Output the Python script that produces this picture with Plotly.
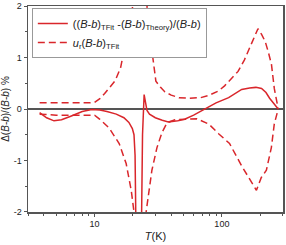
import plotly.graph_objects as go

RED = "#d9262b"

# Solid curve: relative deviation of TFit from theory (%)
T_dev = [3.7, 4.2, 4.8, 5.5, 6.5, 8, 9.5, 10, 11, 12.5, 14.8, 17, 18.6, 19.8, 20.4, 20.8, 21.0, 21.3, 22.0,
         23.0, 23.3, 23.8, 24.5, 25.0, 25.8, 27, 30, 34, 38, 45, 51, 60, 73, 90, 113, 130, 143, 165, 185,
         205, 222, 237, 258, 277]
dev = [-0.07, -0.17, -0.23, -0.21, -0.14, -0.05, -0.01, -0.01, -0.02, -0.05, -0.1, -0.17, -0.26, -0.38, -0.5,
       -0.9, -1.6, -3.0, -10.0,
       -10.0, -2.5, -0.5, 0.28, 0.12, -0.03, -0.1, -0.17, -0.22, -0.25, -0.23, -0.2, -0.12, 0.0, 0.12, 0.22,
       0.32, 0.38, 0.41, 0.42, 0.4, 0.32, 0.21, 0.1, 0.0]

# Dashed curves: relative uncertainty u_r (%) upper and lower
T_up = [3.7, 5, 7, 9, 10, 11, 12, 13.2, 14.5, 16, 17, 18.6, 19.8, 20.5, 21.5,
        24.5, 25.8, 27, 28.5, 30.3, 33, 35.7, 40, 46, 55, 68, 80, 94, 105, 113, 134, 150, 170, 192, 205,
        219, 232, 245, 258, 268, 277]
u_up = [0.12, 0.12, 0.11, 0.12, 0.13, 0.2, 0.3, 0.42, 0.55, 0.8, 1.12, 1.5, 1.94, 2.5, 5.0,
        5.0, 2.0, 1.5, 1.0, 0.54, 0.42, 0.33, 0.27, 0.22, 0.21, 0.22, 0.27, 0.35, 0.45, 0.54, 0.73, 0.95,
        1.25, 1.56, 1.45, 1.31, 1.1, 0.87, 0.4, 0.2, 0.0]

T_lo = [3.7, 5, 7, 9, 10, 11, 13.0, 15.6, 17.7, 19.4, 20.4, 21.5,
        24.0, 25.4, 28.2, 30.9, 33.8, 37, 42.7, 63.4, 78.7, 94.2, 114.8, 142.6, 186.8, 204, 223.6, 244.6,
        258, 277]
u_lo = [-0.1, -0.12, -0.12, -0.11, -0.12, -0.2, -0.37, -0.67, -1.06, -1.58, -2.0, -5.0,
        -5.0, -2.0, -1.19, -0.75, -0.46, -0.27, -0.21, -0.19, -0.29, -0.48, -0.67, -1.1, -1.58, -1.33,
        -1.19, -0.75, -0.29, 0.0]

y_ticks = [-2, -1, 0, 1, 2]
x_ticks = [10, 100]

FONT = "Arial, 'Liberation Sans', sans-serif"
DASH = "7px,4px"

fig = go.Figure()
fig.add_trace(go.Scatter(
    x=T_dev, y=dev, mode="lines", line=dict(color=RED, width=1.5),
    name="((<i>B</i>-<i>b</i>)<sub>TFit</sub> -(<i>B</i>-<i>b</i>)<sub>Theory</sub>)/(<i>B</i>-<i>b</i>)"))
fig.add_trace(go.Scatter(
    x=T_up, y=u_up, mode="lines", line=dict(color=RED, width=1.5, dash=DASH),
    name="<i>u</i><sub>r</sub>(<i>B</i>-<i>b</i>)<sub>TFit</sub>"))
fig.add_trace(go.Scatter(
    x=T_lo, y=u_lo, mode="lines", line=dict(color=RED, width=1.5, dash=DASH),
    showlegend=False))

axis_common = dict(
    showline=True, linecolor="#555", linewidth=1.5, mirror=True,
    ticks="outside", ticklen=3, tickwidth=1, tickcolor="#555",
    showgrid=False, tickfont=dict(size=9, color="#222", family=FONT),
    ticklabeloverflow="allow",
)

fig.update_layout(
    width=286, height=245,
    margin=dict(l=28, r=1, t=4, b=33),
    paper_bgcolor="white", plot_bgcolor="white",
    font=dict(family=FONT, color="#222"),
    showlegend=True, hovermode=False,
    legend=dict(x=0.015, y=0.99, xanchor="left", yanchor="top",
                bordercolor="#999", borderwidth=1, bgcolor="white",
                font=dict(size=11, family=FONT, color="#222"),
                itemwidth=30, tracegroupgap=0),
    xaxis=dict(type="log", range=[0.477, 2.48], tickvals=x_ticks, ticktext=[str(v) for v in x_ticks],
               minor=dict(ticks="outside", ticklen=2, tickcolor="#555", dtick="D1"),
               title=dict(text="<i>T</i>(K)", font=dict(size=11, family=FONT), standoff=4),
               zeroline=False, **axis_common),
    yaxis=dict(range=[-2.001, 2.001], tickvals=y_ticks, ticktext=[str(v) for v in y_ticks],
               minor=dict(ticks="outside", ticklen=2, tickcolor="#555", dtick=0.5),
               zeroline=True, zerolinecolor="#555", zerolinewidth=1.5,
               title=dict(text="Δ(<i>B</i>-<i>b</i>)/(<i>B</i>-<i>b</i>) %", font=dict(size=10, family=FONT), standoff=2),
               **axis_common),
)

fig.write_html("out.html", config={"displayModeBar": False, "staticPlot": True},
               post_script="document.body.style.margin='0';document.body.style.overflow='hidden';")
